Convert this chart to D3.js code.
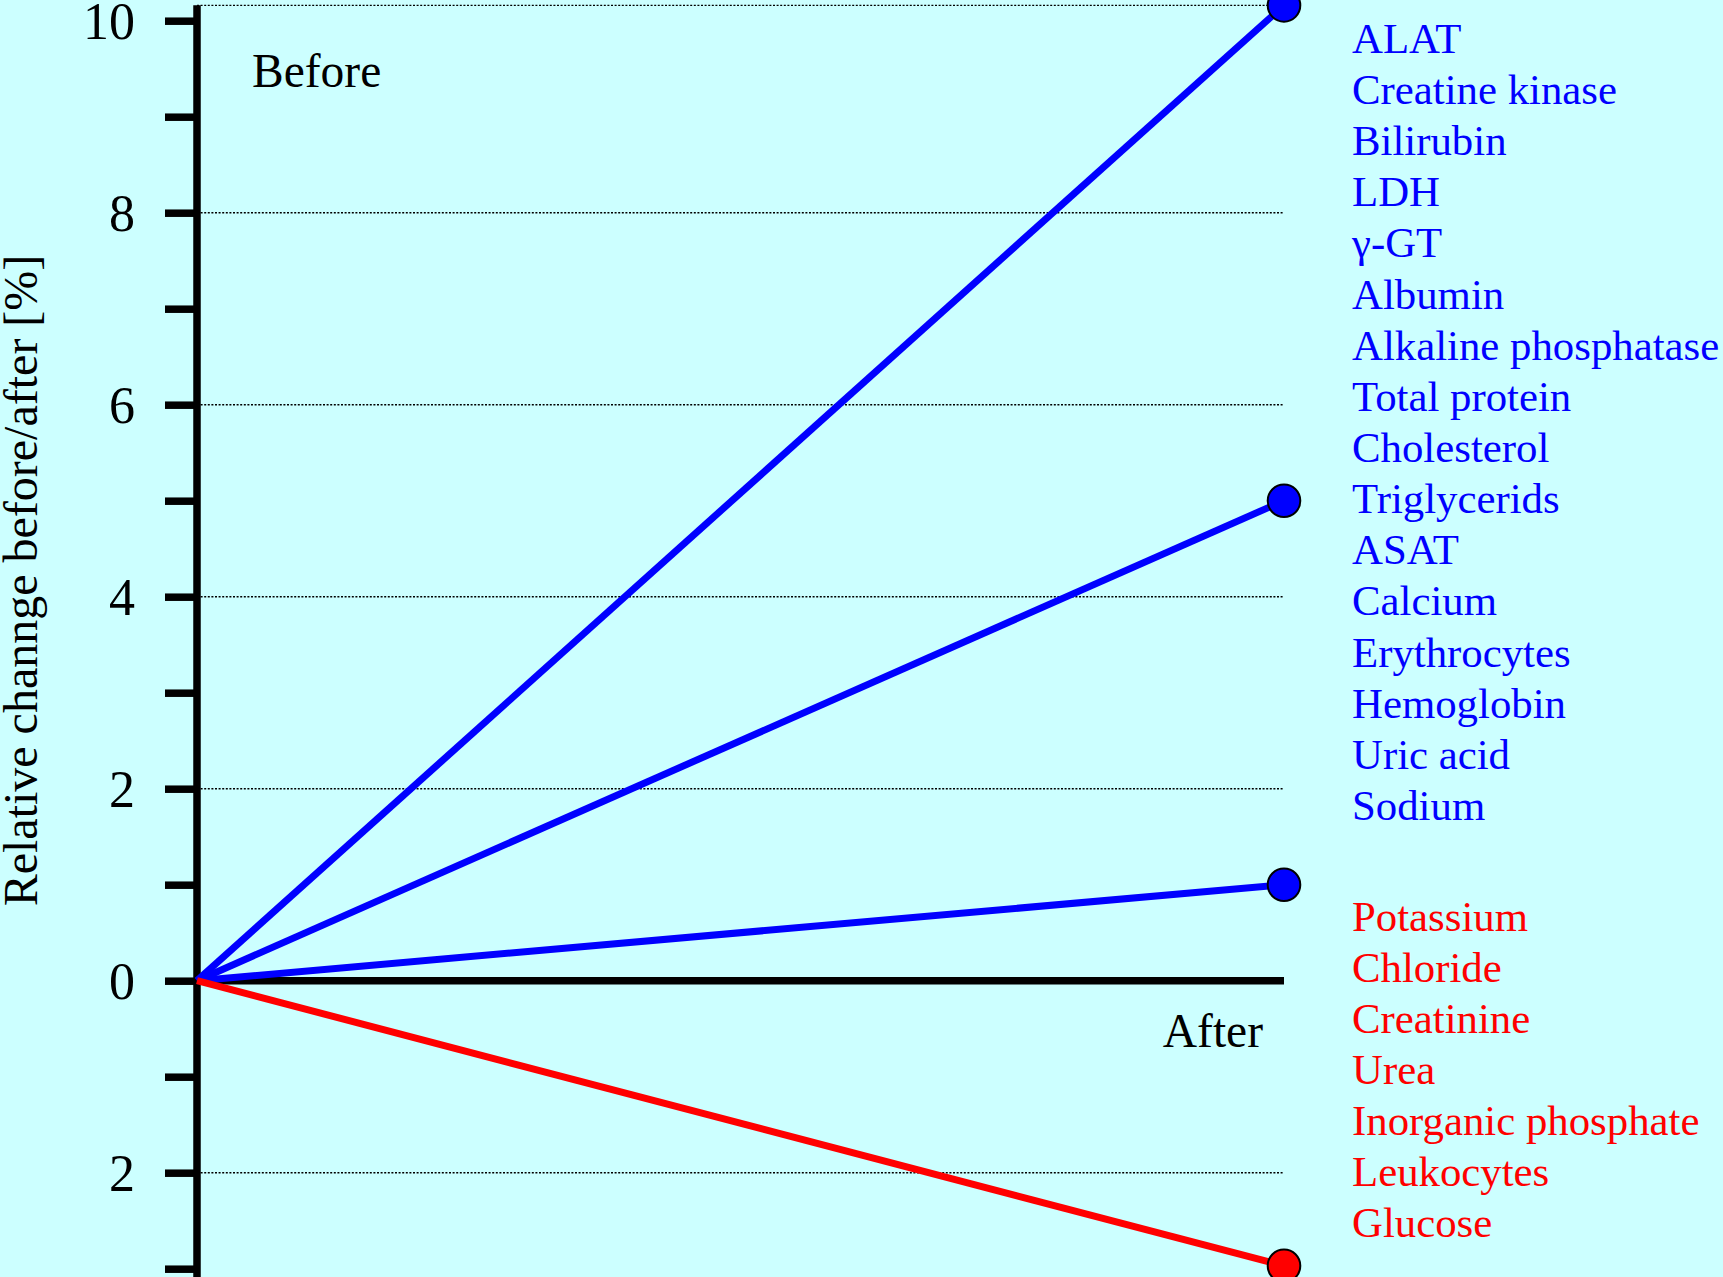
<!DOCTYPE html>
<html>
<head>
<meta charset="utf-8">
<script src="https://cdn.jsdelivr.net/npm/d3@7"></script>
<style>
  html, body { margin: 0; padding: 0; background: #ccffff; }
  svg { display: block; }
  text { font-family: "Liberation Serif", "Times New Roman", serif; }
</style>
</head>
<body>
<svg width="1723" height="1277"></svg>
<script>
const width = 1723;
const height = 1277;

// before/after change of each group (percent)
const groupValues = [10.16, 5, 1, -2.97];
const groupColors = ["#0000ff", "#0000ff", "#0000ff", "#ff0000"];

const increasedParams = [
    "ALAT", "Creatine kinase", "Bilirubin", "LDH", "γ-GT", "Albumin",
    "Alkaline phosphatase", "Total protein", "Cholesterol", "Triglycerids",
    "ASAT", "Calcium", "Erythrocytes", "Hemoglobin", "Uric acid", "Sodium",
];
const decreasedParams = [
    "Potassium", "Chloride", "Creatinine", "Urea", "Inorganic phosphate",
    "Leukocytes", "Glucose",
];

const tickValues = [-3, -2, -1, 0, 1, 2, 3, 4, 5, 6, 7, 8, 9, 10];
const labelValues = [-2, 0, 2, 4, 6, 8, 10];
const gridValues = [-2, 2, 4, 6, 8];
const yTop = 10.16;

const svg = d3.select("svg");
svg.append("rect").attr("width", width).attr("height", height).attr("fill", "#ccffff");

const x = d3.scaleLinear().domain([0, 1]).range([197, 1284]);
const y = d3.scaleLinear().domain([-3, 10]).range([1268.7, 20.7]);

// dotted grid lines
const grid = svg.append("g");
grid.selectAll("line")
    .data(gridValues.concat([yTop]))
    .join("line")
    .attr("x1", x(0))
    .attr("x2", x(1))
    .attr("y1", (d) => y(d))
    .attr("y2", (d) => y(d))
    .attr("stroke", "#000")
    .attr("stroke-width", 1.4)
    .attr("stroke-dasharray", "2,1.6");

// y axis
const yAxis = d3.axisLeft(y)
    .tickValues(tickValues)
    .tickSize(32)
    .tickPadding(30)
    .tickFormat((d) => (labelValues.includes(d) ? Math.abs(d) : ""));

const yAxisG = svg.append("g")
    .attr("transform", `translate(${x(0)},0)`)
    .call(yAxis);
yAxisG.select(".domain").remove();
yAxisG.selectAll(".tick line").attr("stroke", "#000").attr("stroke-width", 7.5);
yAxisG.selectAll(".tick text")
    .attr("fill", "#000")
    .attr("font-size", 52)
    .attr("font-family", "Liberation Serif, Times New Roman, serif")
    .attr("dy", "0.34em");

svg.append("line")
    .attr("x1", x(0)).attr("x2", x(0))
    .attr("y1", y(yTop)).attr("y2", height + 5)
    .attr("stroke", "#000").attr("stroke-width", 7.5);

// zero line
svg.append("line")
    .attr("x1", x(0)).attr("x2", x(1))
    .attr("y1", y(0)).attr("y2", y(0))
    .attr("stroke", "#000").attr("stroke-width", 7.5);

// y label
svg.append("text")
    .attr("transform", `translate(37,${(256 + 905) / 2}) rotate(-90)`)
    .attr("text-anchor", "middle")
    .attr("font-size", 48)
    .attr("fill", "#000")
    .text("Relative channge before/after [%]");

svg.append("text").attr("x", 252).attr("y", 87)
    .attr("font-size", 47.5).attr("fill", "#000").text("Before");
svg.append("text").attr("x", 1263).attr("y", 1047)
    .attr("text-anchor", "end")
    .attr("font-size", 47.5).attr("fill", "#000").text("After");

// change lines
svg.selectAll(".change")
    .data(groupValues)
    .join("line")
    .attr("class", "change")
    .attr("x1", x(0)).attr("y1", y(0))
    .attr("x2", x(1)).attr("y2", (d) => y(d))
    .attr("stroke", (d, i) => groupColors[i])
    .attr("stroke-width", 7);

svg.selectAll(".dot")
    .data(groupValues)
    .join("circle")
    .attr("class", "dot")
    .attr("cx", x(1))
    .attr("cy", (d) => y(d))
    .attr("r", 16.3)
    .attr("fill", (d, i) => groupColors[i])
    .attr("stroke", "#000")
    .attr("stroke-width", 2);

// parameter lists
const lineStep = 51.15;
svg.append("g").selectAll("text")
    .data(increasedParams)
    .join("text")
    .attr("x", 1352)
    .attr("y", (d, i) => 52.8 + i * lineStep)
    .attr("font-size", 42.8)
    .attr("fill", "#0000ff")
    .text((d) => d);

svg.append("g").selectAll("text")
    .data(decreasedParams)
    .join("text")
    .attr("x", 1352)
    .attr("y", (d, i) => 930.5 + i * lineStep)
    .attr("font-size", 42.8)
    .attr("fill", "#ff0000")
    .text((d) => d);
</script>
</body>
</html>
